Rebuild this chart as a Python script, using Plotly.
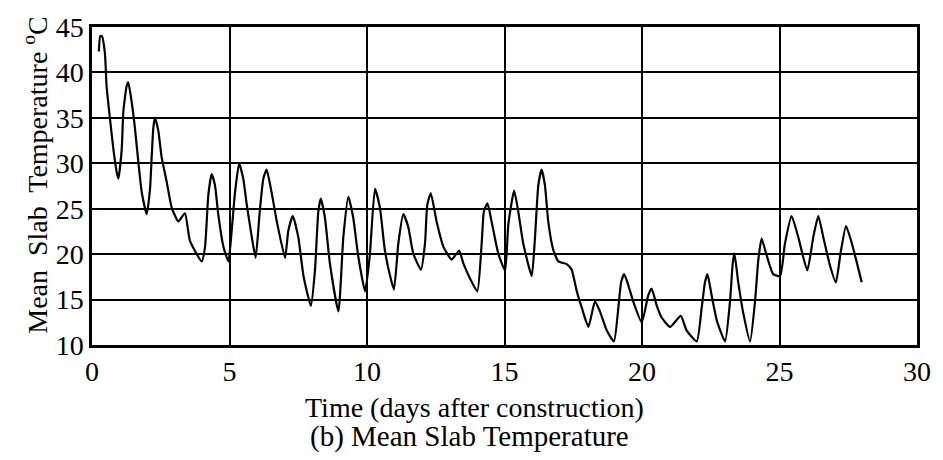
import plotly.graph_objects as go

# Time (days after construction)
days = [0.25, 0.30, 0.36, 0.47, 0.53, 0.65, 0.78, 0.90, 0.96,
        1.08, 1.14, 1.26, 1.32, 1.44, 1.56, 1.69, 1.81, 1.99,
        2.11, 2.17, 2.23, 2.29, 2.41, 2.53, 2.72, 2.90, 3.14, 3.38, 3.56, 3.99,
        4.11, 4.23, 4.35, 4.47, 4.59, 4.78, 4.96,
        5.08, 5.20, 5.35, 5.50, 5.63, 5.81, 5.95,
        6.10, 6.23, 6.35, 6.53, 6.72, 7.02,
        7.14, 7.30, 7.50, 7.69, 7.96,
        8.11, 8.23, 8.32, 8.47, 8.65, 8.96,
        9.14, 9.32, 9.50, 9.68, 9.93,
        10.10, 10.29, 10.47, 10.65, 10.84, 10.98,
        11.14, 11.32, 11.50, 11.68, 11.96,
        12.11, 12.19, 12.32, 12.53, 12.78, 13.08, 13.35, 13.50, 13.75, 14.01,
        14.17, 14.25, 14.38, 14.53, 14.77, 15.02,
        15.14, 15.35, 15.50, 15.68, 15.99,
        16.11, 16.23, 16.35, 16.47, 16.59, 16.77, 16.96, 17.26, 17.44, 17.63, 17.81, 18.05,
        18.29, 18.47, 18.72, 18.98,
        19.14, 19.24, 19.35, 19.50, 19.68, 19.99,
        20.23, 20.35, 20.53, 20.72, 21.02, 21.41, 21.62, 21.99,
        22.17, 22.29, 22.38, 22.53, 22.72, 23.02,
        23.20, 23.30, 23.36, 23.50, 23.69, 23.93,
        24.11, 24.23, 24.35, 24.51, 24.77, 25.02,
        25.20, 25.44, 25.68, 26.01,
        26.23, 26.41, 26.59, 26.84, 27.05,
        27.22, 27.42, 27.63, 27.99]

# Mean slab temperature (°C)
temp = [42.3, 44.0, 44.0, 42.1, 38.5, 35.0, 31.5, 29.0, 28.3,
        31.5, 35.7, 38.5, 38.9, 36.8, 33.9, 30.0, 26.8, 24.4,
        27.2, 30.7, 33.9, 35.0, 33.6, 30.7, 27.9, 25.1, 23.6, 24.5, 21.5, 19.2,
        20.8, 26.5, 28.8, 27.6, 24.4, 20.8, 19.2,
        22.6, 26.8, 30.0, 28.3, 25.4, 21.9, 19.6,
        24.7, 28.3, 29.3, 26.8, 23.6, 19.6,
        22.6, 24.2, 21.9, 17.6, 14.3,
        18.3, 24.7, 26.1, 24.0, 19.0, 13.7,
        21.9, 26.3, 24.0, 19.8, 15.9,
        19.8, 27.2, 25.1, 20.4, 17.6, 16.1,
        21.2, 24.4, 23.0, 20.1, 18.3,
        21.2, 25.4, 26.7, 23.6, 20.8, 19.4, 20.4, 19.0, 17.3, 15.9,
        21.2, 24.7, 25.6, 23.6, 20.1, 18.2,
        23.3, 27.0, 24.7, 21.2, 17.6,
        21.9, 27.6, 29.3, 27.6, 23.6, 20.5, 19.2, 18.9, 18.3, 15.9, 14.1, 12.0,
        14.8, 13.7, 11.6, 10.4,
        14.1, 16.9, 17.8, 16.6, 14.8, 12.5,
        15.5, 16.2, 14.4, 13.0, 12.0, 13.2, 11.6, 10.4,
        14.1, 16.9, 17.8, 15.5, 12.7, 10.4,
        14.8, 19.0, 20.1, 16.9, 13.4, 10.4,
        14.8, 19.4, 21.7, 20.1, 17.8, 17.6,
        21.2, 24.2, 21.9, 18.2,
        21.9, 24.2, 21.9, 18.7, 16.9,
        20.1, 23.1, 21.2, 16.9]

x_ticks = [0, 5, 10, 15, 20, 25, 30]
y_ticks = [10, 15, 20, 25, 30, 35, 40, 45]

FONT = "Liberation Serif"

fig = go.Figure()
fig.add_trace(go.Scatter(x=days, y=temp, mode="lines",
                         line=dict(color="black", width=2.2, shape="spline", smoothing=0.5),
                         showlegend=False))

fig.update_layout(
    width=943, height=460,
    margin=dict(l=92, r=26, t=16, b=115),
    paper_bgcolor="white", plot_bgcolor="white",
    font=dict(family=FONT, color="black", size=28),
    xaxis=dict(range=[0, 30], tickvals=x_ticks, showgrid=True, gridcolor="black",
               gridwidth=1.5, showline=True, linecolor="black", linewidth=2.5,
               mirror=True, ticks="", zeroline=False, ticklabelstandoff=0,
               tickfont=dict(family=FONT, size=28)),
    yaxis=dict(range=[10, 45], tickvals=y_ticks, showgrid=True, gridcolor="black",
               gridwidth=1.5, showline=True, linecolor="black", linewidth=2.5,
               mirror=True, ticks="", zeroline=False, ticklabelstandoff=0,
               tickfont=dict(family=FONT, size=28)),
    annotations=[
        dict(text="Time (days after construction)", xref="paper", yref="paper",
             x=0.464, y=-0.195, xanchor="center", yanchor="middle",
             showarrow=False, font=dict(family=FONT, size=28)),
        dict(text="(b) Mean Slab Temperature", xref="paper", yref="paper",
             x=0.458, y=-0.288, xanchor="center", yanchor="middle",
             showarrow=False, font=dict(family=FONT, size=29)),
        dict(text="Mean  Slab  Temperature <sup>o</sup>C", xref="paper", yref="paper",
             x=-0.068, y=0.535, xanchor="center", yanchor="middle", textangle=-90,
             showarrow=False, font=dict(family=FONT, size=28)),
    ],
)

fig.write_html("out.html")
